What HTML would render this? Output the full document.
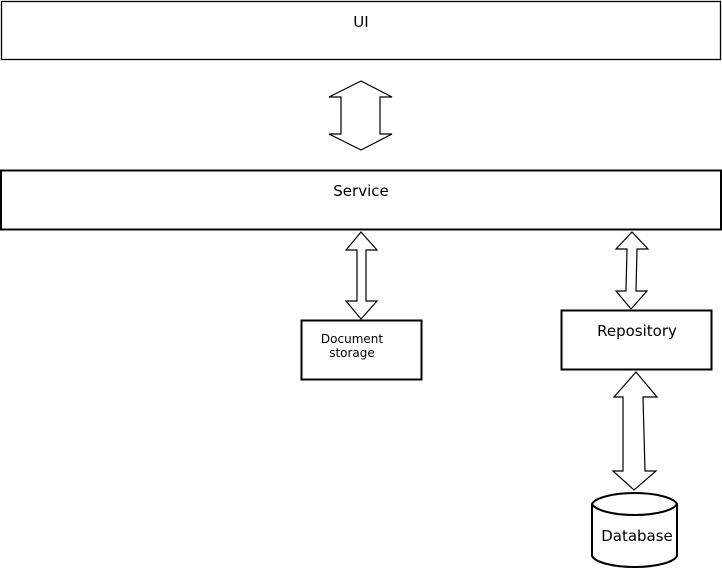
<!DOCTYPE html>
<html><head><style>body{margin:0;background:#fff}</style></head><body>
<svg width="722" height="572" xmlns="http://www.w3.org/2000/svg" font-family="DejaVu Sans, Liberation Sans, sans-serif">
<rect x="1.5" y="1.5" width="719" height="58" fill="#fff" stroke="#000" stroke-width="1.3"/>
<text x="361" y="27" font-size="15" text-anchor="middle">UI</text>
<polygon points="361,81 392,97 380,97 380,134 392,134 361,150 329,134 341,134 341,97 329,97" fill="#fff" stroke="#000" stroke-width="1.2"/>
<rect x="1" y="170.5" width="720" height="59" fill="#fff" stroke="#000" stroke-width="2"/>
<text x="361" y="196" font-size="15" text-anchor="middle">Service</text>
<polygon points="361,232 377,250 366,250 366,301 377,301 361,319 346,301 357,301 357,250 346,250" fill="#fff" stroke="#000" stroke-width="1.2"/>
<rect x="301.5" y="320.5" width="120" height="59" fill="#fff" stroke="#000" stroke-width="2"/>
<text x="352" y="343" font-size="12" text-anchor="middle">Document</text>
<text x="352" y="357" font-size="12" text-anchor="middle">storage</text>
<polygon points="632,232 648,249 637,249 636,291 647,291 631,309 616,291 626,291 627,249 616,249" fill="#fff" stroke="#000" stroke-width="1.2"/>
<rect x="561.5" y="310.5" width="150" height="59" fill="#fff" stroke="#000" stroke-width="2"/>
<text x="637" y="336" font-size="15" text-anchor="middle">Repository</text>
<polygon points="636,372 657,397 643,397 645,471 656,471 634,490 613,471 623,471 623,397 614,397" fill="#fff" stroke="#000" stroke-width="1.2"/>
<path d="M592,504 A43,13 0 0 1 677,504 L677,556 A43,13 0 0 1 592,556 Z" fill="#fff" stroke="#000" stroke-width="2"/>
<path d="M592,504 A43,13 0 0 0 677,504" fill="none" stroke="#000" stroke-width="2"/>
<text x="637" y="541" font-size="15" text-anchor="middle">Database</text>
</svg>
</body></html>
